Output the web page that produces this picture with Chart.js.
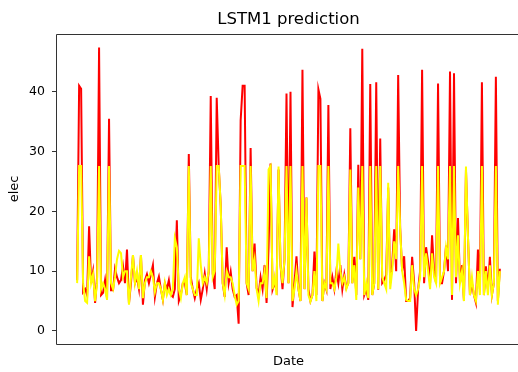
<!DOCTYPE html>
<html>
<head>
<meta charset="utf-8">
<script src="https://cdn.jsdelivr.net/npm/chart.js@4/dist/chart.umd.min.js"></script>
<style>
  html, body { margin: 0; padding: 0; background: #fff; overflow: hidden; }
  #wrap { width: 540px; height: 372px; position: relative; overflow: hidden; }
  #c { display: block; }
</style>
</head>
<body>
<div id="wrap"><canvas id="c" width="540" height="372" style="width:540px;height:372px"></canvas></div>
<script>
// Actual electricity values (red)
const actual = [
  8.5, 41, 40.5, 6.5, 7, 6, 17.5, 8, 10, 4.7,
  9, 47.4, 6, 6.4, 8.5, 5.5, 35.5, 6.8, 6.8, 10.4,
  9, 8, 8.5, 10.8, 8, 13.6, 4.6, 8, 12.7, 8,
  9, 7, 12.7, 4.4, 8.5, 9.5, 8, 9.5, 11, 5.7,
  8, 9.1, 7, 5.2, 8, 7, 8.5, 6, 5.7, 7,
  18.5, 5, 6, 8, 8, 6, 29.6, 9, 7, 5.5,
  7, 8, 5.2, 7, 9.6, 7, 10, 39.3, 9.6, 7,
  39, 27.6, 21, 8, 5.7, 14, 8, 9.9, 7, 5.7,
  6, 1.2, 35.2, 41, 41, 8, 6, 30.6, 10, 14.6,
  7.2, 6, 9, 7, 11, 4.7, 14, 28, 6.9, 8,
  6.9, 27, 11, 7, 12, 39.7, 8, 40, 4, 8,
  12.5, 7, 5, 43.7, 7, 22.3, 7, 5, 6, 13.3,
  6, 40.4, 38.8, 5, 8, 6.9, 37.8, 7, 9, 7,
  10, 8, 11, 7, 9.4, 7.2, 8, 33.9, 8, 12.4,
  6, 27.8, 12, 47.2, 6, 7, 5.2, 41.3, 6, 8,
  41.6, 6.9, 32.2, 8, 8.5, 9.4, 24, 8, 11.1, 17,
  10, 42.8, 17.3, 10, 12.5, 5, 5, 5.5, 12.4, 8.2,
  0, 7, 10, 43.7, 8, 14, 11.6, 8, 16, 10,
  8, 41.4, 8, 8, 10, 14.3, 10, 43.4, 5.2, 43.1,
  8, 18.9, 8, 11, 5, 27, 15.8, 6, 8, 6,
  4.7, 13.6, 7, 41.6, 6, 10.8, 7, 12.4, 6, 8,
  42.5, 5, 10.4
];
// LSTM1 predicted values (yellow)
const predicted = [
  8, 27.6, 27.6, 8, 5, 4.7, 12.5, 8, 9.5, 5,
  8, 27.6, 7, 8, 7, 5.2, 27.6, 8, 7, 9,
  12, 13.4, 13, 9, 10, 10, 4.4, 9, 12.7, 8,
  10, 7, 12.7, 5.5, 8, 9, 9, 10, 9, 6.5,
  8, 8, 7, 5.2, 8, 6, 7, 6, 7, 15.5,
  14, 7, 5.5, 8, 9, 6, 27.6, 8, 7, 6,
  6, 15.5, 11, 8, 9, 8, 10, 27.6, 9, 10,
  27.6, 27.6, 21, 8, 6, 10, 9, 9, 8, 6,
  4.4, 5, 27.6, 27.6, 27.6, 8, 7, 27.6, 10, 12,
  7, 5, 8, 8, 10, 5.5, 27, 27.6, 7, 9,
  6, 27.5, 11, 8, 12, 27.6, 8, 27.6, 5, 7,
  10, 7, 5, 27.6, 7, 22.3, 6, 4.9, 6, 10,
  5, 27.6, 27.6, 5, 8, 7, 27.6, 8, 8, 7,
  9, 14.6, 10, 8, 9, 7, 8, 27, 8, 11,
  5.2, 24, 12, 27.6, 6, 8, 5.5, 27.6, 6, 8,
  27.6, 7, 27.6, 9, 8, 7, 24.8, 7, 10, 15,
  12, 27.6, 17, 10, 8, 5.2, 5, 5, 11, 7,
  6, 7, 9, 27.6, 9, 13, 10, 7, 13, 9,
  8, 27.6, 8, 9, 10, 14, 12, 27.6, 6, 27.6,
  9, 16, 8, 10, 5, 27.5, 15.8, 6, 9, 6,
  5, 10, 6, 27.6, 6, 10, 6, 11, 6, 8,
  27.6, 4.4, 10
];
const yTicks = [0, 10, 20, 30, 40];
const chartTitle = 'LSTM1 prediction';
const xTitle = 'Date';
const yTitle = 'elec';

const toPoints = arr => arr.map((v, i) => ({ x: i, y: v }));
const n = actual.length;
const xPad = (n - 1) * 0.05;

// axes frame: left, top and bottom spines (right spine lies outside the cropped figure)
const boxPlugin = {
  id: 'box',
  afterDraw(chart) {
    const { ctx, chartArea: a } = chart;
    const l = Math.round(a.left) + 0.5, t = Math.round(a.top) + 0.5, b = Math.round(a.bottom) + 0.5;
    ctx.save();
    ctx.strokeStyle = '#333';
    ctx.lineWidth = 1;
    ctx.beginPath();
    ctx.moveTo(chart.width + 5, t); ctx.lineTo(l, t); ctx.lineTo(l, b); ctx.lineTo(chart.width + 5, b);
    ctx.stroke();
    ctx.restore();
  }
};

new Chart(document.getElementById('c'), {
  type: 'line',
  data: {
    datasets: [
      { label: 'actual', data: toPoints(actual), borderColor: '#ff0000', backgroundColor: '#ff0000',
        borderWidth: 2, pointRadius: 0, tension: 0, order: 2 },
      { label: 'predicted', data: toPoints(predicted), borderColor: '#ffff00', backgroundColor: '#ffff00',
        borderWidth: 2, pointRadius: 0, tension: 0, order: 1 }
    ]
  },
  options: {
    responsive: false,
    maintainAspectRatio: false,
    devicePixelRatio: 1,
    animation: false,
    layout: { padding: { left: 0, right: 19, top: 0, bottom: 0 } },
    plugins: {
      legend: { display: false },
      tooltip: { enabled: false },
      title: {
        display: true, text: chartTitle, color: '#000', fullSize: false,
        font: { family: 'DejaVu Sans', size: 16.5, weight: 'normal', lineHeight: 1.2 },
        padding: { top: 10, bottom: 4 }
      }
    },
    scales: {
      x: {
        type: 'linear', min: -xPad, max: (n - 1) + xPad,
        ticks: { display: false },
        grid: { display: false },
        border: { display: false },
        title: { display: true, text: xTitle, color: '#000',
                 font: { family: 'DejaVu Sans', size: 13 }, padding: { top: 0, bottom: 3 } },
        afterFit(s) { s.height = 28; }
      },
      y: {
        min: -2.18, max: 49.7,
        afterBuildTicks(s) { s.ticks = yTicks.map(v => ({ value: v })); },
        ticks: { color: '#000', font: { family: 'DejaVu Sans', size: 12.5 }, padding: 7 },
        grid: { drawOnChartArea: false, drawTicks: true, tickLength: 4, color: '#333' },
        border: { display: false },
        title: { display: true, text: yTitle, color: '#000',
                 font: { family: 'DejaVu Sans', size: 13 }, padding: { top: 7, bottom: 0 } },
        afterFit(s) { s.width = 56; }
      }
    }
  },
  plugins: [boxPlugin]
});
</script>
</body>
</html>
